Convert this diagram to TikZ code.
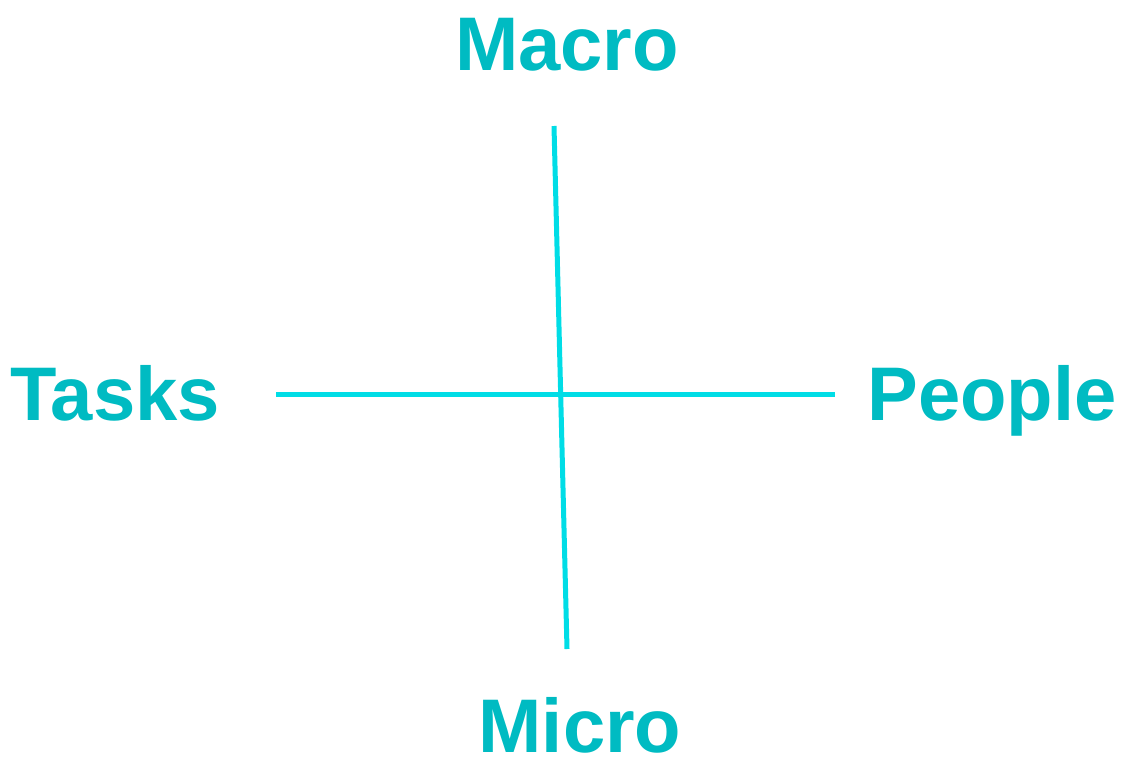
\documentclass[tikz,border=0pt]{standalone}
\usepackage{fontspec}
\setmainfont{Liberation Sans}
\definecolor{labelteal}{HTML}{00BBC2}
\definecolor{axiscyan}{HTML}{00DDE6}
\begin{document}
\begin{tikzpicture}[x=1pt,y=-1pt,
  lbl/.style={anchor=base, text=labelteal, inner sep=0pt, font=\fontsize{76}{78}\selectfont\bfseries},
  axis/.style={draw=axiscyan, line width=5pt}]
\useasboundingbox (0,0) rectangle (1122,769);
\node[lbl] (macro) at (567,70) {Macro};
\node[lbl] (micro) at (580,752) {Micro};
\node[lbl] (tasks) at (115,420) {Tasks};
\node[lbl] (people) at (992,420) {People};
\coordinate (top) at (554,126);
\coordinate (bot) at (567,649);
\coordinate (left) at (276,394);
\coordinate (right) at (835,394);
\draw[axis] (top) -- (bot);
\draw[axis] (left) -- (right);
\end{tikzpicture}
\end{document}
